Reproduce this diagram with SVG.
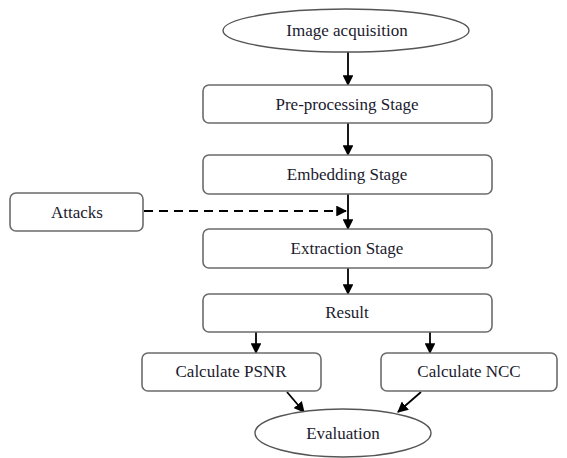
<svg xmlns="http://www.w3.org/2000/svg" width="567" height="458" viewBox="0 0 567 458">
  <style>
    .box { fill: #ffffff; stroke: #6b6b6b; stroke-width: 1.6; }
    .oval { fill: #ffffff; stroke: #555555; stroke-width: 1.4; }
    .lbl { font-family: "Liberation Serif", "Times New Roman", serif; font-size: 17px; fill: #1a1a2e; text-anchor: middle; }
    .edge { stroke: #000000; stroke-width: 1.8; fill: none; }
    .dash { stroke-dasharray: 9 6; }
  </style>
  <defs>
    <marker id="arrow" viewBox="0 0 10 10" refX="9" refY="5" markerWidth="6" markerHeight="6" orient="auto" markerUnits="strokeWidth">
      <path d="M0,0 L10,5 L0,10 z" fill="#000000"/>
    </marker>
  </defs>
  <rect width="567" height="458" fill="#ffffff"/>

  <g id="connectors">
    <line class="edge" x1="348" y1="52" x2="348" y2="85" marker-end="url(#arrow)"/>
    <line class="edge" x1="348" y1="123" x2="348" y2="155" marker-end="url(#arrow)"/>
    <line class="edge" x1="348" y1="194" x2="348" y2="229" marker-end="url(#arrow)"/>
    <line class="edge dash" x1="144" y1="211" x2="346" y2="211" marker-end="url(#arrow)"/>
    <line class="edge" x1="348" y1="268" x2="348" y2="294" marker-end="url(#arrow)"/>
    <line class="edge" x1="256" y1="332" x2="256" y2="353" marker-end="url(#arrow)"/>
    <line class="edge" x1="430" y1="332" x2="430" y2="353" marker-end="url(#arrow)"/>
    <line class="edge" x1="287" y1="392" x2="304" y2="412" marker-end="url(#arrow)"/>
    <line class="edge" x1="421" y1="392" x2="398" y2="412" marker-end="url(#arrow)"/>
  </g>

  <g id="image-acquisition">
    <ellipse class="oval" cx="346" cy="30.5" rx="123" ry="21.5"/>
    <text class="lbl" x="347" y="36">Image acquisition</text>
  </g>
  <g id="pre-processing">
    <rect class="box" x="203" y="85" width="289" height="38" rx="6"/>
    <text class="lbl" x="347" y="110">Pre-processing Stage</text>
  </g>
  <g id="embedding">
    <rect class="box" x="203" y="155" width="289" height="39" rx="6"/>
    <text class="lbl" x="347" y="180">Embedding Stage</text>
  </g>
  <g id="attacks">
    <rect class="box" x="10" y="193" width="133" height="38" rx="6"/>
    <text class="lbl" x="77" y="218">Attacks</text>
  </g>
  <g id="extraction">
    <rect class="box" x="203" y="229" width="289" height="39" rx="6"/>
    <text class="lbl" x="347" y="254">Extraction Stage</text>
  </g>
  <g id="result">
    <rect class="box" x="203" y="294" width="289" height="38" rx="6"/>
    <text class="lbl" x="347" y="318">Result</text>
  </g>
  <g id="calc-psnr">
    <rect class="box" x="142" y="353" width="179" height="38" rx="6"/>
    <text class="lbl" x="231" y="377">Calculate PSNR</text>
  </g>
  <g id="calc-ncc">
    <rect class="box" x="381" y="353" width="176" height="38" rx="6"/>
    <text class="lbl" x="469" y="377">Calculate NCC</text>
  </g>
  <g id="evaluation">
    <ellipse class="oval" cx="343" cy="433" rx="88" ry="24"/>
    <text class="lbl" x="343" y="439">Evaluation</text>
  </g>
</svg>
